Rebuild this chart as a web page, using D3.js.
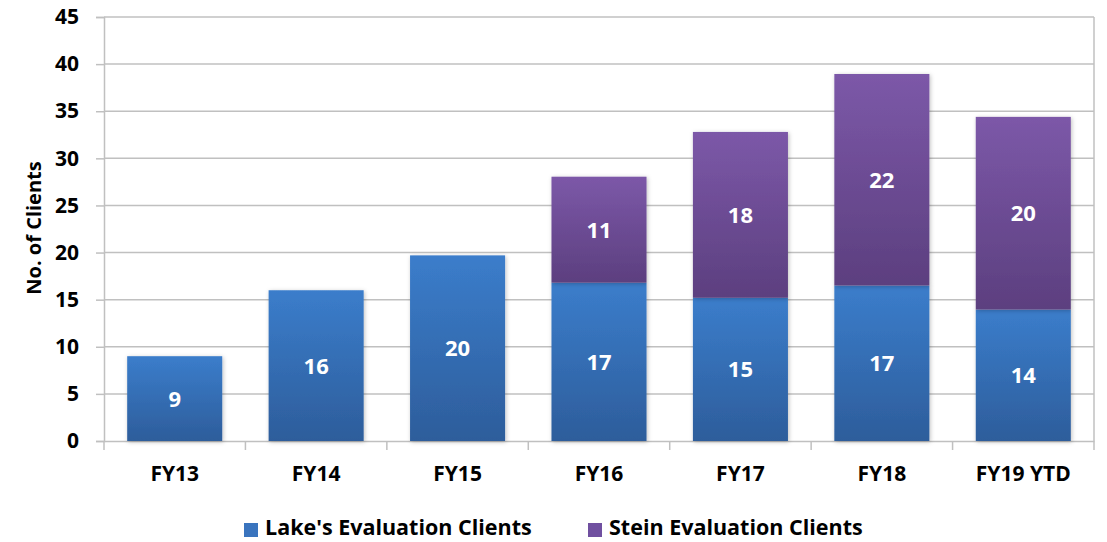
<!DOCTYPE html>
<html><head><meta charset="utf-8">
<script src="https://cdn.jsdelivr.net/npm/d3@7"></script>
<style>body{margin:0;background:#fff}svg{display:block}text{font-family:"Open Sans",sans-serif;font-weight:bold}</style>
</head><body><svg id="c" width="1107" height="542"></svg>
<script>
const categories = ["FY13","FY14","FY15","FY16","FY17","FY18","FY19 YTD"];
const lakeValues = [9, 16, 19.7, 16.8, 15.2, 16.5, 13.95];
const steinValues = [0, 0, 0, 11.25, 17.6, 22.45, 20.45];
const seriesNames = ["Lake's Evaluation Clients", "Stein Evaluation Clients"];
const yTicks = [0,5,10,15,20,25,30,35,40,45];

const svg = d3.select("#c");
const m = {l:104, r:1094, t:17, b:441};
const x = d3.scaleBand().domain(categories).range([m.l, m.r]).paddingInner(0.328).paddingOuter(0.164);
const y = d3.scaleLinear().domain([0,45]).range([m.b, m.t]);

const defs = svg.append("defs");
function grad(id, c1, c2){
  const g = defs.append("linearGradient").attr("id",id).attr("x1",0).attr("y1",0).attr("x2",0).attr("y2",1);
  g.append("stop").attr("offset","0%").attr("stop-color",c1);
  g.append("stop").attr("offset","100%").attr("stop-color",c2);
}
grad("gBlue","#3b7dcb","#2d5d9b");
grad("gPurple","#7c58a8","#5c3f7f");
const f = defs.append("filter").attr("id","sh").attr("x","-10%").attr("y","-10%").attr("width","130%").attr("height","130%");
f.append("feDropShadow").attr("dx",1).attr("dy",1).attr("stdDeviation",2).attr("flood-color","#000").attr("flood-opacity",0.25);

svg.append("g").selectAll("line").data(yTicks.filter(d=>d>0)).join("line")
  .attr("x1",m.l).attr("x2",m.r).attr("y1",d=>y(d)).attr("y2",d=>y(d))
  .attr("stroke","#c0c0c0").attr("stroke-width",1.5);
svg.append("line").attr("x1",m.r).attr("x2",m.r).attr("y1",m.t).attr("y2",m.b).attr("stroke","#c0c0c0").attr("stroke-width",1.5);

const ya = svg.append("g").attr("transform",`translate(${m.l},0)`)
  .call(d3.axisLeft(y).tickValues(yTicks).tickSize(8).tickPadding(17));
ya.select(".domain").attr("stroke","#c0c0c0").attr("stroke-width",1.5);
ya.selectAll(".tick line").attr("stroke","#c0c0c0").attr("stroke-width",1.5);
ya.selectAll(".tick text").attr("font-size",21).attr("fill","#000").attr("font-family","Open Sans").attr("font-weight","bold");

const xa = svg.append("g").attr("transform",`translate(0,${m.b})`)
  .call(d3.axisBottom(x).tickSize(0).tickPadding(25));
xa.select(".domain").attr("stroke","#c0c0c0").attr("stroke-width",1.5);
xa.selectAll(".tick text").attr("font-size",21).attr("fill","#000").attr("font-family","Open Sans").attr("font-weight","bold");
const bounds = d3.range(categories.length+1).map(i => m.l + i*(m.r-m.l)/categories.length);
svg.append("g").selectAll("line").data(bounds).join("line")
  .attr("x1",d=>d).attr("x2",d=>d).attr("y1",m.b).attr("y2",m.b+9)
  .attr("stroke","#c0c0c0").attr("stroke-width",1.5);

const data = categories.map((c,i)=>({c, lake:lakeValues[i], stein:steinValues[i]}));
const bars = svg.append("g");
data.forEach(d=>{
  bars.append("rect").attr("x",x(d.c)).attr("width",x.bandwidth())
    .attr("y",y(d.lake)).attr("height",y(0)-y(d.lake)).attr("fill","url(#gBlue)").attr("filter","url(#sh)");
  if(d.stein>0){
    bars.append("rect").attr("x",x(d.c)).attr("width",x.bandwidth())
      .attr("y",y(d.lake+d.stein)).attr("height",y(d.lake)-y(d.lake+d.stein)).attr("fill","url(#gPurple)").attr("filter","url(#sh)");
  }
});
const labels = svg.append("g").attr("font-size",22).attr("fill","#fff").attr("text-anchor","middle");
data.forEach(d=>{
  labels.append("text").attr("x",x(d.c)+x.bandwidth()/2).attr("y",y(d.lake/2)).attr("dy","0.36em").text(Math.round(d.lake));
  if(d.stein>0) labels.append("text").attr("x",x(d.c)+x.bandwidth()/2).attr("y",y(d.lake+d.stein/2)).attr("dy","0.36em").text(Math.round(d.stein));
});

svg.append("text").attr("transform","translate(41,228) rotate(-90)").attr("text-anchor","middle")
  .attr("font-size",20).text("No. of Clients");

const lg = svg.append("g");
const legendItems = [{n:seriesNames[0], c:"#3a74be", x:244},{n:seriesNames[1], c:"#7050a0", x:588}];
legendItems.forEach(it=>{
  lg.append("rect").attr("x",it.x).attr("y",523).attr("width",14).attr("height",14).attr("fill",it.c);
  lg.append("text").attr("x",it.x+21).attr("y",535).attr("font-size",21.5).text(it.n);
});
</script></body></html>
